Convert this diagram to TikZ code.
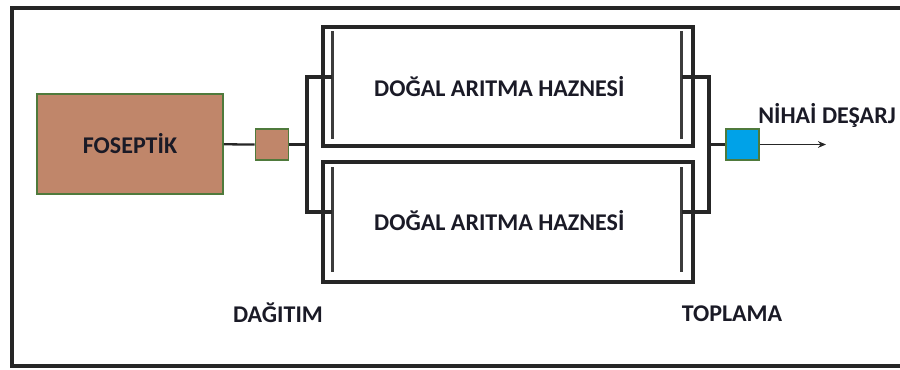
\documentclass[tikz,border=0pt]{standalone}
\usepackage{fontspec}
\setmainfont{Carlito}
\usetikzlibrary{arrows.meta, positioning, calc}
\definecolor{fosfill}{HTML}{C0866A}
\definecolor{fosline}{HTML}{4F7A3C}
\definecolor{outfill}{HTML}{00A2E8}
\definecolor{pipeline}{HTML}{262626}
\definecolor{txtcol}{HTML}{1A1A26}
\tikzset{
  frame/.style  = {draw=pipeline, line width=2.6pt},
  fosblk/.style = {rectangle, draw=fosline, fill=fosfill, line width=1.2pt,
                   minimum width=139.5pt, minimum height=75pt, inner sep=0pt,
                   font=\fontsize{18}{20}\selectfont\bfseries, text=txtcol},
  smallblk/.style={rectangle, draw=fosline, line width=1.2pt,
                   minimum width=25pt, minimum height=23pt, inner sep=0pt},
  tank/.style   = {rectangle, draw=pipeline, line width=2.3pt,
                   minimum width=277.5pt, inner sep=0pt,
                   font=\fontsize{18}{20}\selectfont\bfseries, text=txtcol},
  baffle/.style = {draw=pipeline!90, line width=2pt},
  pipe/.style   = {draw=pipeline, line width=2.5pt},
  link/.style   = {draw=pipeline, line width=1.7pt},
  flow/.style   = {-{Stealth[length=6pt, width=5pt]}, draw=pipeline, line width=1.3pt},
  lbl/.style    = {font=\fontsize{18}{20}\selectfont\bfseries, text=txtcol, inner sep=0pt},
}
\begin{document}
\begin{tikzpicture}[x=0.75pt, y=-0.75pt]
  \useasboundingbox (0,0) rectangle (900,369);
  % outer frame
  \draw[frame] (900,8) -- (12,8) -- (12,366) -- (900,366);

  % blocks
  \node[fosblk] (foseptik) at (130,144) {FOSEPT\.{I}K};
  \node[smallblk, fill=fosfill] (dagitim) at (272,144.5) {};
  \node[tank, minimum height=89.25pt] (tank1) at (508,86.5)
    {\hspace*{-13pt}DO\u{G}AL ARITMA HAZNES\.{I}};
  \node[tank, minimum height=90pt] (tank2) at (508,222)
    {\hspace*{-13pt}\raisebox{2pt}{DO\u{G}AL ARITMA HAZNES\.{I}}};
  \node[smallblk, fill=outfill] (cikis) at (742.5,144.5) {};

  % baffles
  \draw[baffle] ($(tank1.north west)+(11,6)$) -- ($(tank1.south west)+(11,-9)$);
  \draw[baffle] ($(tank1.north east)+(-13,6)$) -- ($(tank1.south east)+(-13,-9)$);
  \draw[baffle] ($(tank2.north west)+(11,7)$) -- ($(tank2.south west)+(11,-12)$);
  \draw[baffle] ($(tank2.north east)+(-13,7)$) -- ($(tank2.south east)+(-13,-12)$);

  % distribution and collection
  \coordinate (dagj) at (307,144.5);
  \coordinate (topj) at (709,144.5);
  \coordinate (in1) at ($(tank1.west)+(11,-9.5)$);
  \coordinate (in2) at ($(tank2.west)+(11,-10)$);
  \coordinate (out1) at ($(tank1.east)+(-13,-9.5)$);
  \coordinate (out2) at ($(tank2.east)+(-13,-10)$);
  \coordinate (son) at (826,144.5);

  \draw[link] (foseptik) -- (dagitim);
  \draw[link] (dagitim) -- (dagj);
  \draw[pipe] (in1) -| (dagj) |- (in2);
  \draw[pipe] (out1) -| (topj) |- (out2);
  \draw[link] (topj) -- (cikis);
  \draw[flow] (cikis) -- (son);

  % labels
  \node[lbl] (dagitimlbl) at (278,313) {DA\u{G}ITIM};
  \node[lbl] (toplamalbl) at (732,314) {TOPLAMA};
  \node[lbl] (desarjlbl) at (827,115) {N\.{I}HA\.{I} DE\c{S}ARJ};
\end{tikzpicture}
\end{document}
